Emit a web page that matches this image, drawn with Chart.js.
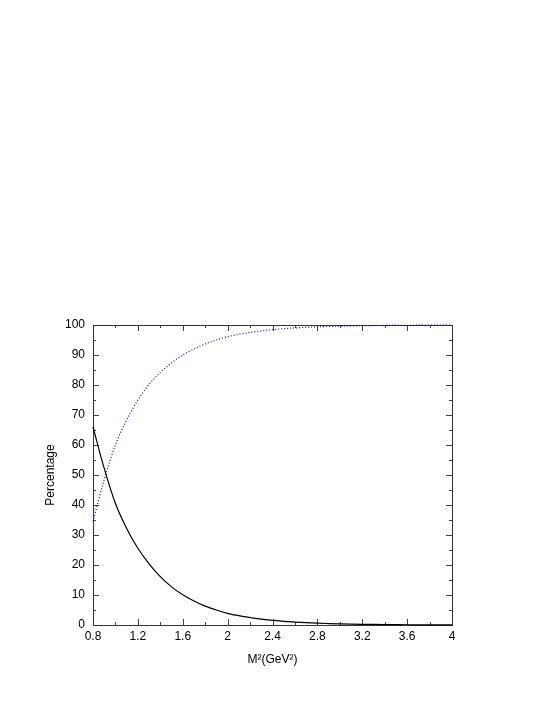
<!DOCTYPE html>
<html>
<head>
<meta charset="utf-8">
<script src="https://cdn.jsdelivr.net/npm/chart.js@4"></script>
<style>
  html, body { margin: 0; padding: 0; background: #fff; }
  #wrap { width: 545px; height: 705px; }
</style>
</head>
<body>
<div id="wrap"><canvas id="chart" width="545" height="705"></canvas></div>
<script>
// M^2 in GeV^2
const massSq = [0.8, 0.9, 1.0, 1.1, 1.2, 1.3, 1.4, 1.5, 1.6, 1.7, 1.8, 1.9, 2.0,
  2.1, 2.2, 2.3, 2.4, 2.5, 2.6, 2.7, 2.8, 2.9, 3.0, 3.1, 3.2, 3.3, 3.4, 3.5,
  3.6, 3.7, 3.8, 3.9, 4.0];

// solid black curve (falling)
const blackPct = [66, 52.2, 40.5, 32.2, 25.6, 20.4, 16.1, 12.7, 10.1, 8.0, 6.3, 5.0, 3.9,
  3.1, 2.5, 1.95, 1.55, 1.2, 0.97, 0.77, 0.6, 0.48, 0.38, 0.3, 0.24, 0.19, 0.15, 0.12,
  0.09, 0.07, 0.06, 0.05, 0.04];

// dotted blue curve (rising)
const bluePct = [34.5, 48.5, 60, 68.3, 75, 80.2, 84.2, 87.4, 90, 92.0, 93.7, 95.0, 96.1,
  96.9, 97.5, 98.05, 98.45, 98.8, 99.03, 99.23, 99.4, 99.52, 99.62, 99.7, 99.76, 99.81,
  99.85, 99.88, 99.91, 99.93, 99.94, 99.95, 99.96];

const xMin = 0.8, xMax = 4, xStep = 0.4, xMinor = 0.2;
const yMin = 0, yMax = 100, yStep = 10, yMinor = 5;

const axisFont = { family: 'Liberation Sans, Arial, sans-serif', size: 12 };

// frame + inward tick marks on all four sides, drawn under the curves
const innerTicks = {
  id: 'innerTicks',
  beforeDatasetsDraw(chart) {
    const { ctx, chartArea: a, scales: { x, y } } = chart;
    ctx.save();
    ctx.strokeStyle = '#444';
    ctx.lineWidth = 1;
    ctx.beginPath();
    const nx = Math.round((xMax - xMin) / xMinor);
    for (let i = 0; i <= nx; i++) {
      const px = Math.round(x.getPixelForValue(xMin + i * xMinor)) + 0.5;
      const len = i % 2 === 0 ? 6 : 3;
      ctx.moveTo(px, a.bottom); ctx.lineTo(px, a.bottom - len);
      ctx.moveTo(px, a.top); ctx.lineTo(px, a.top + len);
    }
    const ny = Math.round((yMax - yMin) / yMinor);
    for (let i = 0; i <= ny; i++) {
      const py = Math.round(y.getPixelForValue(yMin + i * yMinor)) + 0.5;
      const len = i % 2 === 0 ? 6 : 3;
      ctx.moveTo(a.left, py); ctx.lineTo(a.left + len, py);
      ctx.moveTo(a.right, py); ctx.lineTo(a.right - len, py);
    }
    ctx.stroke();
    ctx.strokeStyle = '#333';
    ctx.strokeRect(Math.round(a.left) + 0.5, Math.round(a.top) + 0.5,
      Math.round(a.right - a.left), Math.round(a.bottom - a.top));
    ctx.restore();
  }
};

new Chart(document.getElementById('chart'), {
  type: 'line',
  data: {
    datasets: [
      {
        label: 'black',
        data: massSq.map((m, i) => ({ x: m, y: blackPct[i] })),
        borderColor: '#000',
        borderWidth: 1.2,
        pointRadius: 0,
        clip: 2,
        cubicInterpolationMode: 'monotone'
      },
      {
        label: 'blue',
        data: massSq.map((m, i) => ({ x: m, y: bluePct[i] })),
        borderColor: '#0000ff',
        borderWidth: 1.2,
        borderDash: [1, 2],
        pointRadius: 0,
        clip: 2,
        cubicInterpolationMode: 'monotone'
      }
    ]
  },
  options: {
    responsive: false,
    animation: false,
    layout: { padding: { left: 39, top: 325, right: 93, bottom: 34 } },
    plugins: { legend: { display: false }, tooltip: { enabled: false } },
    scales: {
      x: {
        type: 'linear',
        min: xMin, max: xMax,
        grid: { display: false, drawTicks: false },
        border: { display: false },
        ticks: {
          stepSize: xStep, color: '#000', font: axisFont, padding: 4, maxRotation: 0,
          callback: v => String(+v.toFixed(1))
        },
        title: { display: true, text: 'M²(GeV²)', color: '#000', font: axisFont, padding: { top: 4, bottom: 4 } },
        afterFit: s => { s.height = 46; }
      },
      y: {
        min: yMin, max: yMax,
        grid: { display: false, drawTicks: false },
        border: { display: false },
        ticks: { stepSize: yStep, color: '#000', font: axisFont, padding: 8 },
        title: { display: true, text: 'Percentage', color: '#000', font: axisFont, padding: 4 },
        afterFit: s => { s.width = 54; }
      }
    }
  },
  plugins: [innerTicks]
});
</script>
</body>
</html>
